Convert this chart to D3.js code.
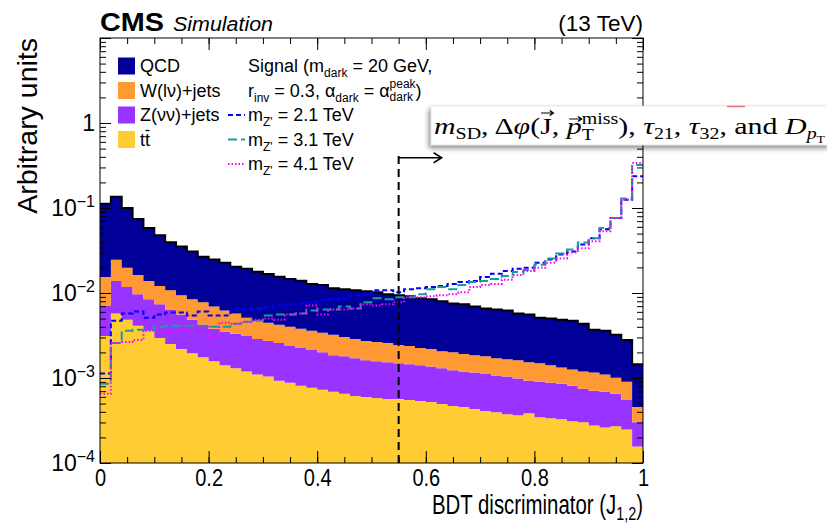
<!DOCTYPE html>
<html><head><meta charset="utf-8">
<script src="https://cdn.jsdelivr.net/npm/d3@7"></script>
<style>
body{margin:0;background:#fff;}
svg{display:block;font-family:"Liberation Sans",Arial,sans-serif;}
text{white-space:pre;}
</style></head><body>
<svg id="c" width="827" height="526"></svg>
<script>
// ---------------- DATA ----------------
const binLow = d3.range(50).map(i => i / 50);   // 50 bins of width 0.02 on [0,1]

const ttbar = [0.00313,0.00573,0.00486,0.00412,0.00359,0.00296,0.00251,0.00219,0.00196,0.00176,
0.00157,0.00141,0.00130,0.00119,0.00110,0.00104,0.000931,0.000881,0.000811,0.000768,
0.000726,0.000688,0.000651,0.000616,0.000599,0.000583,0.000567,0.000567,0.000551,0.000537,
0.000522,0.000494,0.000468,0.000455,0.000431,0.000408,0.000396,0.000375,0.000365,0.000386,
0.000345,0.000336,0.000327,0.000309,0.000301,0.000277,0.000262,0.000270,0.000248,0.000156];

const zjets = [0.00402,0.00812,0.00688,0.00556,0.00484,0.00439,0.00389,0.00339,0.00290,0.00247,
0.00222,0.00208,0.00201,0.00194,0.00178,0.00169,0.00165,0.00150,0.00144,0.00136,
0.00128,0.00116,0.00115,0.00109,0.00102,0.000987,0.000963,0.000923,0.000899,0.000873,
0.000848,0.000806,0.000762,0.000735,0.000729,0.000722,0.000674,0.000665,0.000619,0.000545,
0.000561,0.000545,0.000530,0.000502,0.000446,0.000430,0.000426,0.000381,0.000303,0.000145];

const wjets = [0.00831,0.01083,0.00806,0.00665,0.00542,0.00472,0.00441,0.00383,0.00357,0.00353,
0.00316,0.00274,0.00242,0.00200,0.00185,0.00174,0.00165,0.00163,0.00154,0.00146,
0.00139,0.00137,0.00124,0.00117,0.00111,0.00108,0.00105,0.00095,0.00093,0.00084,
0.00082,0.00077,0.00078,0.00072,0.00069,0.00067,0.00064,0.00062,0.000636,0.000599,
0.000584,0.000529,0.000473,0.000449,0.000443,0.000453,0.000412,0.000359,0.000355,0.000154];

const qcd = [0.0965,0.1113,0.0802,0.0580,0.0442,0.0357,0.0286,0.0259,0.0224,0.0190,
0.0178,0.0165,0.0147,0.0142,0.0130,0.0123,0.0113,0.0106,0.0101,0.00921,
0.0090,0.00818,0.00806,0.00792,0.00777,0.00755,0.0071,0.00697,0.00678,0.00642,
0.00624,0.00591,0.00554,0.00544,0.0051,0.00478,0.00469,0.00457,0.00411,0.00405,
0.00364,0.00359,0.00353,0.00347,0.00316,0.00253,0.00249,0.00221,0.00189,0.000995];

const sig21 = [0.00113,0.00473,0.00573,0.00606,0.00513,0.00558,0.00589,0.00589,0.00543,0.00606,
0.00543,0.00543,0.0064,0.0064,0.0064,0.00676,0.00715,0.00735,0.00755,0.00776,
0.0082,0.00843,0.00867,0.00941,0.00968,0.0108,0.0108,0.0102,0.0111,0.0114,
0.01174,0.01207,0.0128,0.01347,0.01385,0.01546,0.0168,0.0182,0.0193,0.0198,
0.0227,0.0247,0.0283,0.0308,0.0373,0.0440,0.0564,0.0763,0.125,0.236];

const sig31 = [0.000857,0.00258,0.00359,0.00369,0.00369,0.00401,0.00412,0.00412,0.00412,0.00412,
0.00401,0.00401,0.00435,0.0046,0.00473,0.00543,0.00558,0.00558,0.00573,0.00623,
0.0064,0.0064,0.00695,0.00658,0.00776,0.00867,0.00843,0.00891,0.00891,0.00968,
0.0111,0.01174,0.0111,0.0124,0.01347,0.01385,0.0146,0.0159,0.0177,0.0187,
0.0215,0.0255,0.0291,0.0325,0.0394,0.0440,0.0580,0.0763,0.129,0.320];

const sig41 = [0.000651,0.00258,0.00265,0.00280,0.00359,0.00359,0.0034,0.00359,0.00369,0.00401,
0.00304,0.00447,0.00435,0.0046,0.00486,0.0050,0.00486,0.00558,0.00573,0.00715,
0.00558,0.0064,0.0064,0.00658,0.00735,0.00715,0.00735,0.00776,0.00891,0.00891,
0.00916,0.00941,0.00968,0.0102,0.01174,0.0124,0.0128,0.0143,0.01633,0.0182,
0.0198,0.0227,0.0255,0.0299,0.0335,0.0406,0.0534,0.0763,0.125,0.338];

const bkgLabels = ["QCD", "W(lν)+jets", "Z(νν)+jets", "tt"];
const sigMasses = ["2.1", "3.1", "4.1"];
const xTicks = [0, 0.2, 0.4, 0.6, 0.8, 1];
const yDecades = [1e-4, 1e-3, 1e-2, 1e-1, 1, 10];
const cutValue = 0.55;
const cutTop = 0.39;     // height (y value) where the cut arrow sits

// ---------------- SETUP ----------------
const M = {l: 100, r: 643, t: 38, b: 463};
const svg = d3.select("#c");
const x = d3.scaleLinear().domain([0, 1]).range([M.l, M.r]);
const y = d3.scaleLog().domain([1e-4, 10]).range([M.b, M.t]);
const yc = v => y(Math.max(v, 1e-4));

const colors = {tt: "#ffcc33", z: "#9933ff", w: "#ff9933", q: "#000099"};
const sigStyle = [
  {c: "#0000ff", dash: "5,3"},
  {c: "#1a9c98", dash: "9,4"},
  {c: "#ff00ff", dash: "1.5,2"}
];

const defs = svg.append("defs");
defs.append("clipPath").attr("id", "clip")
  .append("rect").attr("x", M.l).attr("y", M.t).attr("width", M.r - M.l).attr("height", M.b - M.t);
const fsh = defs.append("filter").attr("id", "shadow")
  .attr("x", "-10%").attr("y", "-30%").attr("width", "120%").attr("height", "180%");
fsh.append("feDropShadow").attr("dx", -2).attr("dy", 3).attr("stdDeviation", 2.5)
  .attr("flood-color", "#000").attr("flood-opacity", 0.45);

const rows = binLow.map((b, i) => ({b, tt: ttbar[i], z: zjets[i], w: wjets[i], q: qcd[i]}));
rows.push(Object.assign({}, rows[rows.length - 1], {b: 1}));
const stack = d3.stack().keys(["tt", "z", "w", "q"])(rows);

const plot = svg.append("g").attr("clip-path", "url(#clip)");
const area = d3.area().curve(d3.curveStepAfter)
  .x(d => x(d.data.b)).y0(d => yc(d[0])).y1(d => yc(d[1]));
plot.selectAll("path.layer").data(stack).join("path").attr("class", "layer")
  .attr("d", area).attr("fill", d => colors[d.key]);

plot.append("path").datum(stack[3])
  .attr("d", d3.line().curve(d3.curveStepAfter).x(d => x(d.data.b)).y(d => yc(d[1])))
  .attr("fill", "none").attr("stroke", "#000").attr("stroke-width", 2);

[sig21, sig31, sig41].forEach((s, k) => {
  const pts = binLow.map((b, i) => [b, s[i]]);
  pts.push([1, s[s.length - 1]]);
  plot.append("path").datum(pts)
    .attr("d", d3.line().curve(d3.curveStepAfter).x(d => x(d[0])).y(d => yc(d[1])))
    .attr("fill", "none").attr("stroke", sigStyle[k].c).attr("stroke-width", 2)
    .attr("stroke-dasharray", sigStyle[k].dash);
});

// cut line + arrow
const xc = x(cutValue), ya = y(cutTop);
svg.append("line").attr("x1", xc).attr("x2", xc).attr("y1", M.b).attr("y2", ya - 4)
  .attr("stroke", "#000").attr("stroke-width", 2).attr("stroke-dasharray", "8,5");
svg.append("path").attr("d", `M${xc},${ya} H${xc + 43} M${xc + 35},${ya - 5} L${xc + 43},${ya} L${xc + 35},${ya + 5}`)
  .attr("fill", "none").attr("stroke", "#000").attr("stroke-width", 1.6);

// ---------------- AXES ----------------
const minorX = d3.range(1, 20).map(i => i * 0.05);
const minorY = [];
[-4, -3, -2, -1, 0].forEach(k => { for (let m = 2; m <= 9; m++) minorY.push(m * Math.pow(10, k)); });

function styleAxis(g) { g.select(".domain").remove(); g.selectAll("line").attr("stroke", "#000"); }
svg.append("g").attr("transform", `translate(0,${M.b})`)
  .call(d3.axisBottom(x).tickValues(minorX).tickSize(-6).tickFormat("")).call(styleAxis);
const gxb = svg.append("g").attr("transform", `translate(0,${M.b})`)
  .call(d3.axisBottom(x).tickValues(xTicks).tickSize(-12).tickPadding(7)
    .tickFormat(d => d === 0 ? "0" : d === 1 ? "1" : d3.format(".1f")(d))).call(styleAxis);
gxb.selectAll("text").attr("font-size", 23).attr("font-family", "Liberation Sans").attr("fill", "#000")
  .each(function () {
    const w = this.getComputedTextLength();
    d3.select(this).attr("textLength", w * 0.87).attr("lengthAdjust", "spacingAndGlyphs");
  });
svg.append("g").attr("transform", `translate(0,${M.t})`)
  .call(d3.axisTop(x).tickValues(minorX).tickSize(-6).tickFormat("")).call(styleAxis);
svg.append("g").attr("transform", `translate(0,${M.t})`)
  .call(d3.axisTop(x).tickValues(xTicks).tickSize(-12).tickFormat("")).call(styleAxis);

svg.append("g").attr("transform", `translate(${M.l},0)`)
  .call(d3.axisLeft(y).tickValues(minorY).tickSize(-6).tickFormat("")).call(styleAxis);
svg.append("g").attr("transform", `translate(${M.l},0)`)
  .call(d3.axisLeft(y).tickValues(yDecades).tickSize(-11).tickFormat("")).call(styleAxis);
svg.append("g").attr("transform", `translate(${M.r},0)`)
  .call(d3.axisRight(y).tickValues(minorY).tickSize(-6).tickFormat("")).call(styleAxis);
svg.append("g").attr("transform", `translate(${M.r},0)`)
  .call(d3.axisRight(y).tickValues(yDecades).tickSize(-11).tickFormat("")).call(styleAxis);

svg.append("rect").attr("x", M.l).attr("y", M.t).attr("width", M.r - M.l).attr("height", M.b - M.t)
  .attr("fill", "none").attr("stroke", "#000").attr("stroke-width", 1);

yDecades.filter(v => v <= 1).forEach(v => {
  const t = svg.append("text").attr("x", 95).attr("y", y(v) + 8).attr("text-anchor", "end")
    .attr("font-size", 23);
  if (v === 1) t.text("1");
  else {
    t.append("tspan").text("10");
    t.append("tspan").attr("font-size", 16).attr("dy", -9).text("\u2212" + Math.round(-Math.log10(v)));
  }
});

// ---------------- RICH TEXT HELPER ----------------
function put(g, x0, y0, p, base) {
  return g.append("text").attr("xml:space", "preserve")
    .attr("x", x0).attr("y", y0 + (p.dy || 0))
    .attr("font-size", p.size || base.size)
    .attr("font-family", p.family || base.family)
    .attr("font-style", p.italic ? "italic" : "normal")
    .text(p.t).node();
}
function rich(g, x0, y0, parts, base) {
  let xx = x0; const items = [];
  for (const p of parts) {
    if (p.stack) {
      let w = 0;
      for (const q of p.stack) { const n = put(g, xx, y0, q, base); w = Math.max(w, n.getComputedTextLength()); }
      items.push({x: xx, w}); xx += w;
    } else {
      const n = put(g, xx, y0, p, base); const w = n.getComputedTextLength();
      items.push({x: xx, w}); xx += w;
    }
  }
  return {end: xx, items};
}
const sans = {size: 18, family: "Liberation Sans"};

// titles
svg.append("text").attr("transform", `translate(37,${M.t}) rotate(-90)`).attr("text-anchor", "end")
  .attr("font-size", 28.5).text("Arbitrary units");
const gxt = svg.append("g");
const xt = rich(gxt, 0, 514, [
  {t: "BDT discriminator (J"}, {t: "1,2", size: 19, dy: 6}, {t: ")"}
], {size: 27, family: "Liberation Sans"});
const xsx = (M.r - 432) / xt.end;
gxt.attr("transform", `translate(432,0) scale(${xsx},1)`);

svg.append("text").attr("x", 100).attr("y", 31).attr("font-weight", "bold").attr("font-size", 25)
  .attr("textLength", 64).attr("lengthAdjust", "spacingAndGlyphs").text("CMS");
svg.append("text").attr("x", 173).attr("y", 31).attr("font-style", "italic").attr("font-size", 20)
  .attr("textLength", 100).attr("lengthAdjust", "spacingAndGlyphs").text("Simulation");
svg.append("text").attr("x", M.r).attr("y", 31).attr("text-anchor", "end").attr("font-size", 22.5)
  .text("(13 TeV)");

// ---------------- LEGEND ----------------
const rowY = [72, 96.5, 121, 145.5, 170];
const lg = svg.append("g");
bkgLabels.forEach((lab, i) => {
  lg.append("rect").attr("x", 118).attr("y", rowY[i] - 14.5).attr("width", 17).attr("height", 17)
    .attr("fill", colors[["q", "w", "z", "tt"][i]]);
  const t = lg.append("text").attr("x", 140).attr("y", rowY[i]).attr("font-size", 18).text(lab);
  if (lab === "tt") {
    const n = t.node();
    const x1 = 140 + n.getSubStringLength(0, 1), w2 = n.getSubStringLength(1, 1);
    lg.append("line").attr("x1", x1 + 0.5).attr("x2", x1 + w2 - 0.5)
      .attr("y1", rowY[i] - 15).attr("y2", rowY[i] - 15).attr("stroke", "#000").attr("stroke-width", 1.3);
  }
});
rich(lg, 248, rowY[0], [{t: "Signal (m"}, {t: "dark", size: 12, dy: 5}, {t: " = 20 GeV,"}], sans);
rich(lg, 248, rowY[1], [{t: "r"}, {t: "inv", size: 12, dy: 5}, {t: " = 0.3, α"}, {t: "dark", size: 12, dy: 5},
  {t: " = α"}, {stack: [{t: "peak", size: 12, dy: -8.5}, {t: "dark", size: 12, dy: 4.5}]}, {t: ")"}], sans);
sigMasses.forEach((m, k) => {
  const yy = rowY[2 + k];
  lg.append("line").attr("x1", 228).attr("x2", 245).attr("y1", yy - 6).attr("y2", yy - 6)
    .attr("stroke", sigStyle[k].c).attr("stroke-width", 2).attr("stroke-dasharray", sigStyle[k].dash);
  rich(lg, 248, yy, [{t: "m"}, {t: "Z'", size: 12, dy: 5}, {t: " = " + m + " TeV"}], sans);
});

// ---------------- OVERLAY BOX ----------------
svg.append("rect").attr("x", 431).attr("y", 106).attr("width", 400).attr("height", 39)
  .attr("fill", "#fff").attr("stroke", "#d8d8d8").attr("stroke-width", 0.6).attr("filter", "url(#shadow)");
svg.append("line").attr("x1", 727).attr("x2", 745).attr("y1", 106.5).attr("y2", 106.5)
  .attr("stroke", "#e07070").attr("stroke-width", 1.5);
const ob = svg.append("g");
const serif = {size: 24, family: "Liberation Serif"};
const ov = rich(ob, 0, 134, [
  {t: "m", italic: true}, {t: "SD", size: 16, dy: 5}, {t: ", Δ"}, {t: "φ", italic: true}, {t: "("},
  {t: "J"}, {t: ", "}, {t: "p", italic: true},
  {stack: [{t: "miss", size: 16, dy: -10}, {t: "T", size: 16, dy: 6}]},
  {t: "), "}, {t: "τ", italic: true}, {t: "21", size: 16, dy: 5}, {t: ", "},
  {t: "τ", italic: true}, {t: "32", size: 16, dy: 5}, {t: ", and "},
  {t: "D", italic: true}, {t: "p", italic: true, size: 16, dy: 5}, {t: "T", size: 11, dy: 9}
], serif);
function vecArrow(cx, yy, w) {
  ob.append("path").attr("d", `M${cx - w / 2},${yy} H${cx + w / 2} M${cx + w / 2 - 3},${yy - 2.5} L${cx + w / 2},${yy} L${cx + w / 2 - 3},${yy + 2.5}`)
    .attr("fill", "none").attr("stroke", "#000").attr("stroke-width", 1.1);
}
const iJ = ov.items[5], iP = ov.items[7];
vecArrow(iJ.x + iJ.w / 2 + 1, 113, 10);
vecArrow(iP.x + iP.w / 2 + 1, 119, 10);
const sx = (825 - 434) / ov.end;
ob.attr("transform", `translate(434,0) scale(${sx},1)`);
</script>
</body></html>
